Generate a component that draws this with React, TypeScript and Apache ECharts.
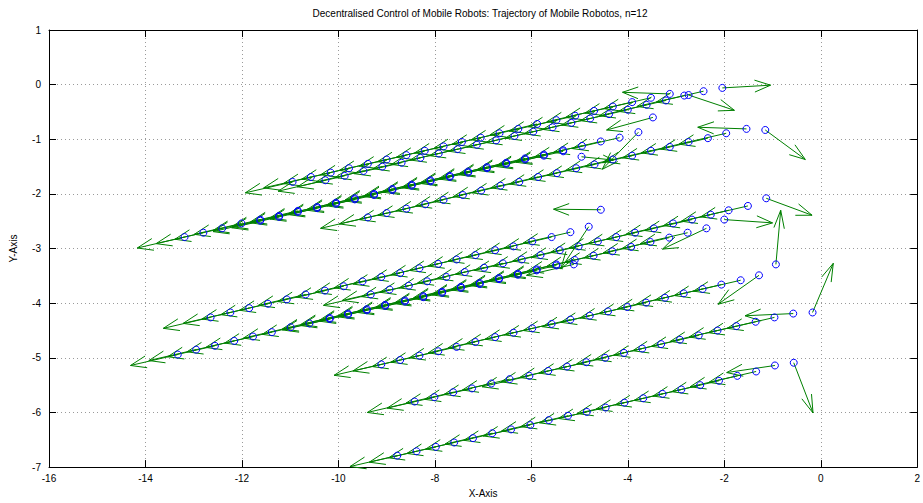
import React, { useEffect, useRef } from "react";
import * as echarts from "echarts";

const titleText = "Decentralised Control of Mobile Robots: Trajectory of Mobile Robotos, n=12";
const xAxisName = "X-Axis";
const yAxisName = "Y-Axis";
const xRange = [-16, 2];
const yRange = [-7, 1];

// arrow drawn at every point after the first (turning) ones
const cruiseArrow = [-0.98, -0.2];

// robot trajectories (time order: start first), arrows read for the first points
const r1X = [-0.56, -0.95, -1.34, -1.73, -2.11, -2.5, -2.89, -3.28, -3.68, -4.07, -4.46, -4.85, -5.24, -5.64, -6.02, -6.42, -6.81, -7.21, -7.6, -7.98, -8.38, -8.78];
const r1Y = [-5.09, -5.14, -5.25, -5.33, -5.42, -5.5, -5.58, -5.66, -5.74, -5.82, -5.91, -5.99, -6.06, -6.14, -6.23, -6.31, -6.38, -6.47, -6.55, -6.63, -6.71, -6.79];
const r1Heads = [[0.4, -0.92], [-1.0, -0.13]];

const r2X = [-0.17, -0.57, -0.96, -1.35, -1.75, -2.14, -2.53, -2.92, -3.31, -3.7, -4.08, -4.47, -4.86, -5.26, -5.65, -6.04, -6.45, -6.83, -7.23, -7.62, -8.01, -8.42];
const r2Y = [-4.17, -4.19, -4.26, -4.34, -4.42, -4.5, -4.59, -4.67, -4.75, -4.83, -4.91, -5.0, -5.08, -5.16, -5.24, -5.33, -5.39, -5.47, -5.56, -5.63, -5.72, -5.8];
const r2Heads = [[0.43, 0.9], [-1.0, -0.04]];

const r3X = [-0.93, -1.28, -1.66, -2.06, -2.45, -2.84, -3.23, -3.62, -4.01, -4.41, -4.79, -5.19, -5.58, -5.98, -6.37, -6.75, -7.16, -7.55, -7.93, -8.32, -8.72, -9.11];
const r3Y = [-3.29, -3.49, -3.58, -3.66, -3.74, -3.82, -3.9, -3.99, -4.07, -4.15, -4.23, -4.3, -4.38, -4.46, -4.54, -4.62, -4.71, -4.8, -4.88, -4.96, -5.04, -5.12];
const r3Heads = [[0.1, 0.99], [-0.85, -0.53]];

const r4X = [-1.13, -1.51, -1.91, -2.28, -2.67, -3.06, -3.46, -3.85, -4.24, -4.62, -5.02, -5.41, -5.81, -6.2, -6.59, -6.98, -7.38, -7.76, -8.16, -8.54, -8.94, -9.33];
const r4Y = [-2.08, -2.22, -2.3, -2.38, -2.47, -2.54, -2.63, -2.71, -2.79, -2.87, -2.96, -3.03, -3.12, -3.2, -3.27, -3.35, -3.43, -3.52, -3.6, -3.68, -3.75, -3.84];
const r4Heads = [[0.95, -0.31]];

const r5X = [-2.0, -2.37, -2.76, -3.14, -3.53, -3.93, -4.32, -4.71, -5.1, -5.48, -5.89, -6.28, -6.67, -7.07, -7.46, -7.85, -8.24, -8.62, -9.03, -9.41, -9.8, -10.18, -10.6, -10.99, -11.38, -11.77, -12.16, -12.56, -12.95, -13.33];
const r5Y = [-2.47, -2.63, -2.71, -2.8, -2.88, -2.97, -3.05, -3.13, -3.21, -3.29, -3.38, -3.46, -3.54, -3.63, -3.7, -3.79, -3.87, -3.95, -4.03, -4.11, -4.19, -4.27, -4.37, -4.44, -4.53, -4.61, -4.69, -4.78, -4.85, -4.94];
const r5Heads = [[1.0, -0.06], [-0.91, -0.38]];

const r6X = [-4.81, -5.12, -5.48, -5.89, -6.28, -6.67, -7.07, -7.46, -7.85, -8.24, -8.62, -9.03, -9.41, -9.8, -10.18];
const r6Y = [-2.6, -3.29, -3.31, -3.4, -3.48, -3.56, -3.65, -3.72, -3.81, -3.89, -3.97, -4.05, -4.13, -4.21, -4.29];
const r6Heads = [[-0.58, -0.77]];

const r7X = [-4.56, -5.19, -5.58, -5.98, -6.37, -6.75, -7.16, -7.55, -7.93, -8.32, -8.72, -9.11, -9.5, -9.89, -10.28, -10.68, -11.07, -11.46, -11.85, -12.24, -12.65];
const r7Y = [-2.29, -2.7, -2.79, -2.87, -2.96, -3.03, -3.12, -3.2, -3.28, -3.36, -3.45, -3.52, -3.6, -3.69, -3.77, -3.84, -3.93, -4.01, -4.09, -4.17, -4.26];
const r7Heads = [[-0.98, 0.01]];

const r8X = [-3.48, -3.78, -4.17, -4.56, -4.95, -5.34, -5.74, -6.13, -6.52, -6.92, -7.31, -7.69, -8.09, -8.48, -8.88, -9.26, -9.66, -10.05, -10.44, -10.84, -11.23, -11.62, -12.01, -12.41, -12.8, -13.19];
const r8Y = [-0.6, -0.87, -0.97, -1.04, -1.12, -1.2, -1.28, -1.35, -1.43, -1.51, -1.59, -1.67, -1.75, -1.83, -1.91, -2.0, -2.08, -2.16, -2.24, -2.31, -2.4, -2.47, -2.54, -2.63, -2.71, -2.79];
const r8Heads = [[-0.96, -0.23], [-0.75, -0.68]];

const r9X = [-4.96, -5.34, -5.74, -6.13, -6.52, -6.92, -7.31, -7.69, -8.09, -8.48, -8.88, -9.26, -9.66, -10.05, -10.44, -10.84, -11.23, -11.62];
const r9Y = [-1.32, -1.22, -1.3, -1.37, -1.45, -1.53, -1.61, -1.69, -1.77, -1.85, -1.93, -2.02, -2.1, -2.18, -2.26, -2.33, -2.42, -2.49];
const r9Heads = [[0.66, -0.06]];

const r10X = [-2.74, -3.13, -3.52, -3.91, -4.31, -4.7, -5.09, -5.48, -5.88, -6.27, -6.66, -7.05, -7.44, -7.82, -8.21, -8.59, -9.0, -9.39, -9.78, -10.16, -10.57, -10.95];
const r10Y = [-0.19, -0.17, -0.24, -0.32, -0.4, -0.48, -0.57, -0.65, -0.72, -0.81, -0.89, -0.97, -1.05, -1.13, -1.21, -1.29, -1.37, -1.45, -1.53, -1.61, -1.69, -1.78];
const r10Heads = [[0.95, -0.28], [-0.98, 0.03]];

const r11X = [-2.04, -2.43, -2.83, -3.21, -3.61, -4.0, -4.39, -4.78, -5.17, -5.56, -5.96, -6.35, -6.73, -7.13, -7.53, -7.92, -8.3, -8.69, -9.09, -9.48, -9.87, -10.27];
const r11Y = [-0.06, -0.12, -0.2, -0.29, -0.37, -0.46, -0.54, -0.62, -0.7, -0.78, -0.86, -0.94, -1.02, -1.1, -1.18, -1.26, -1.34, -1.43, -1.5, -1.58, -1.67, -1.75];
const r11Heads = [[1.0, 0.05]];

const r12X = [-1.15, -1.54, -1.96, -2.34, -2.74, -3.13, -3.52, -3.91, -4.31, -4.69, -5.07, -5.47, -5.86, -6.25, -6.64, -7.04, -7.42, -7.82, -8.2, -8.59, -9.0, -9.39];
const r12Y = [-0.83, -0.81, -0.89, -0.98, -1.05, -1.14, -1.21, -1.3, -1.37, -1.46, -1.53, -1.62, -1.69, -1.78, -1.85, -1.94, -2.02, -2.11, -2.19, -2.27, -2.35, -2.43];
const r12Heads = [[0.83, -0.54], [-1.01, 0.03]];

const robots = [
  { x: r1X, y: r1Y, heads: r1Heads },
  { x: r2X, y: r2Y, heads: r2Heads },
  { x: r3X, y: r3Y, heads: r3Heads },
  { x: r4X, y: r4Y, heads: r4Heads },
  { x: r5X, y: r5Y, heads: r5Heads },
  { x: r6X, y: r6Y, heads: r6Heads },
  { x: r7X, y: r7Y, heads: r7Heads },
  { x: r8X, y: r8Y, heads: r8Heads },
  { x: r9X, y: r9Y, heads: r9Heads },
  { x: r10X, y: r10Y, heads: r10Heads },
  { x: r11X, y: r11Y, heads: r11Heads },
  { x: r12X, y: r12Y, heads: r12Heads },
];

const FONT = "'Liberation Sans', Arial, Helvetica, sans-serif";
const GREEN = "#008000";
const BLUE = "#0000ff";

export default function App() {
  const ref = useRef<HTMLDivElement>(null);

  useEffect(() => {
    document.body.style.margin = "0";
    document.body.style.overflow = "hidden";
    if (!ref.current) return;
    const chart = echarts.init(ref.current, undefined, { renderer: "svg", width: 923, height: 503 });

    const arrowData: number[][] = [];
    const pointData: number[][] = [];
    robots.forEach((r) => {
      r.x.forEach((xv, i) => {
        const h = i < r.heads.length ? r.heads[i] : cruiseArrow;
        arrowData.push([xv, r.y[i], h[0], h[1]]);
        pointData.push([xv, r.y[i]]);
      });
    });

    const axisCommon = {
      type: "value" as const,
      axisLine: { show: true, onZero: false, lineStyle: { color: "#000", width: 1 } },
      axisTick: { show: true, inside: true, length: 7, lineStyle: { color: "#000" } },
    };

    const option: any = {
      animation: false,
      backgroundColor: "#fff",
      grid: { left: 45, top: 30, width: 879, height: 443, show: false },
      graphic: [
        {
          type: "text",
          x: 480,
          y: 13,
          style: {
            text: titleText,
            fontSize: 10,
            fontFamily: FONT,
            fill: "#000",
            textAlign: "center",
            textVerticalAlign: "middle",
          },
        },
      ],
      xAxis: [
        {
          ...axisCommon,
          position: "bottom",
          min: xRange[0],
          max: xRange[1],
          interval: 2,
          name: xAxisName,
          nameLocation: "middle",
          nameGap: 17,
          nameTextStyle: { fontSize: 10, fontFamily: FONT, color: "#000" },
          axisLabel: { fontSize: 10, fontFamily: FONT, color: "#000", margin: 6 },
          splitLine: { show: true, lineStyle: { color: "#9a9a9a", type: [1, 3], width: 1 } },
        },
        {
          ...axisCommon,
          position: "top",
          min: xRange[0],
          max: xRange[1],
          interval: 2,
          axisLabel: { show: false },
          splitLine: { show: false },
        },
      ],
      yAxis: [
        {
          ...axisCommon,
          position: "left",
          min: yRange[0],
          max: yRange[1],
          interval: 1,
          name: yAxisName,
          nameLocation: "middle",
          nameGap: 31,
          nameTextStyle: { fontSize: 10, fontFamily: FONT, color: "#000" },
          axisLabel: { fontSize: 10, fontFamily: FONT, color: "#000", margin: 8 },
          splitLine: { show: true, lineStyle: { color: "#9a9a9a", type: [1, 3], width: 1 } },
        },
        {
          ...axisCommon,
          position: "right",
          min: yRange[0],
          max: yRange[1],
          interval: 1,
          axisLabel: { show: false },
          splitLine: { show: false },
        },
      ],
      series: [
        {
          type: "custom",
          xAxisIndex: 0,
          yAxisIndex: 0,
          z: 2,
          dimensions: ["x", "y", "u", "v"],
          encode: { x: 0, y: 1 },
          data: arrowData,
          renderItem: (params: any, api: any) => {
            const x = api.value(0);
            const y = api.value(1);
            const u = api.value(2);
            const v = api.value(3);
            const a = 0.33;
            const b = 0.33;
            const p0 = api.coord([x, y]);
            const tip = api.coord([x + u, y + v]);
            const h1 = api.coord([x + u - a * (u + b * v), y + v - a * (v - b * u)]);
            const h2 = api.coord([x + u - a * (u - b * v), y + v - a * (v + b * u)]);
            return {
              type: "group",
              children: [
                {
                  type: "line",
                  shape: { x1: p0[0], y1: p0[1], x2: tip[0], y2: tip[1] },
                  style: { stroke: GREEN, lineWidth: 1, fill: null },
                },
                {
                  type: "polyline",
                  shape: { points: [h1, tip, h2] },
                  style: { stroke: GREEN, lineWidth: 1, fill: null },
                },
              ],
            };
          },
        },
        {
          type: "scatter",
          xAxisIndex: 0,
          yAxisIndex: 0,
          z: 3,
          symbol: "circle",
          symbolSize: 7,
          itemStyle: { color: "rgba(0,0,0,0)", borderColor: BLUE, borderWidth: 1, opacity: 1 },
          emphasis: { disabled: true },
          data: pointData,
        },
      ],
    };

    chart.setOption(option);
    return () => chart.dispose();
  }, []);

  return <div ref={ref} style={{ width: 923, height: 503, overflow: "hidden" }} />;
}
